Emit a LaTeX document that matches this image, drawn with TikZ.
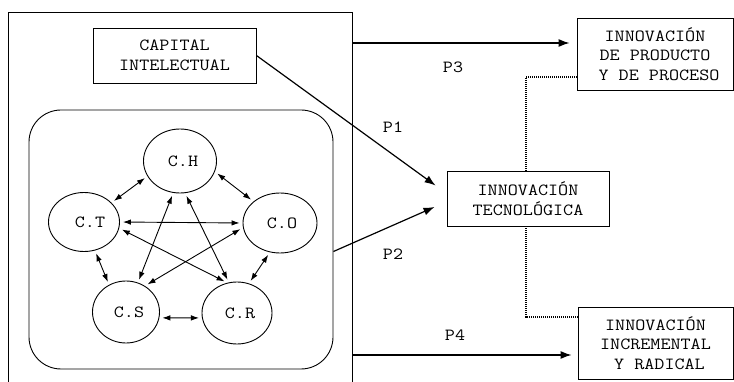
\documentclass[tikz,border=0pt]{standalone}
\usepackage{fontspec}
\newfontfamily\courfont[FakeStretch=1.15]{Latin Modern Mono}
\usetikzlibrary{shapes.geometric,arrows.meta,calc}
\begin{document}
\begin{tikzpicture}[x=1pt,y=-1pt,
  every node/.style={font=\courfont\fontsize{17}{19.5}\selectfont},
  box/.style={draw,line width=0.9pt,rectangle,align=center,inner sep=0pt},
  comp/.style={draw,line width=0.9pt,ellipse,inner sep=0pt},
  mainarrow/.style={line width=1.2pt,-{Latex[length=11pt,width=8pt]}},
  link/.style={line width=0.9pt,{Latex[length=8pt,width=5.5pt]}-{Latex[length=8pt,width=5.5pt]},shorten <=3pt,shorten >=3pt},
  dotline/.style={line width=1.2pt,dash pattern=on 1pt off 1pt}]
\useasboundingbox (0,0) rectangle (734,382);

% outer frame (runs past the lower edge)
\node[draw,line width=0.9pt,minimum width=344pt,minimum height=400pt,inner sep=0pt] (outer) at (180,212) {};

% intellectual capital block
\node[box,minimum width=163pt,minimum height=55pt] (cap) at (174.5,55.5) {CAPITAL\\INTELECTUAL};
\node[draw,line width=0.9pt,rounded corners=32pt,minimum width=304pt,minimum height=259pt,inner sep=0pt] (grp) at (181,239.5) {};

% components
\node[comp,minimum width=73pt,minimum height=64pt] (ch) at (180,161) {\hspace*{6pt}C.H};
\node[comp,minimum width=71pt,minimum height=59pt] (ct) at (84,222) {\hspace*{12pt}C.T};
\node[comp,minimum width=74pt,minimum height=60pt] (co) at (280,223) {\hspace*{4pt}C.O};
\node[comp,minimum width=67pt,minimum height=62pt] (cs) at (126,312) {\hspace*{6pt}C.S};
\node[comp,minimum width=70pt,minimum height=62pt] (cr) at (237,313) {\hspace*{6pt}C.R};

\draw[link] (ct.35) -- (ch.205);
\draw[link] (ch.-17) -- (co.141);
\draw[link] (ct.0) -- (co.180);
\draw[link] (ct.-10) -- (cr.108);
\draw[link] (ch.258) -- (cs.68);
\draw[link] (ch.279) -- (cr.105);
\draw[link] (co.187) -- (cs.54);
\draw[link] (ct.291) -- (cs.122);
\draw[link] (co.251) -- (cr.68);
\draw[link] (cs.-10) -- (cr.188);

% innovation outcomes
\node[box,minimum width=162pt,minimum height=55pt] (tech) at (528,198.5) {INNOVACIÓN\\TECNOLÓGICA};
\node[box,minimum width=156pt,minimum height=72pt] (prod) at (655,54) {INNOVACIÓN\\DE PRODUCTO\\\hspace*{8pt}Y DE PROCESO};
\node[box,minimum width=155pt,minimum height=72pt] (incr) at (655.5,343) {INNOVACIÓN\\INCREMENTAL\\\hspace*{8pt}Y RADICAL};

% propositions
\coordinate (y3) at (0,43);
\coordinate (y4) at (0,355);
\draw[mainarrow] (outer.east |- y3) -- ([xshift=-7pt]prod.west |- y3);
\draw[mainarrow] (cap.east) -- ([xshift=-11pt,yshift=13pt]tech.west);
\draw[mainarrow] ([yshift=-12pt]grp.east) -- ([xshift=-12pt,yshift=-8.5pt]tech.west);
\draw[mainarrow] (outer.east |- y4) -- ([xshift=-6pt]incr.west |- y4);

\node (p3) at (453,67) {P3};
\node (p1) at (393,127) {P1};
\node (p2) at (393,254) {P2};
\node (p4) at (455,335) {P4};

% dotted ties
\draw[dotline] ([xshift=-2pt]tech.north) |- ([yshift=-23pt]prod.west);
\draw[dotline] ([xshift=-2pt]tech.south) |- ([yshift=26pt]incr.west);
\end{tikzpicture}
\end{document}
